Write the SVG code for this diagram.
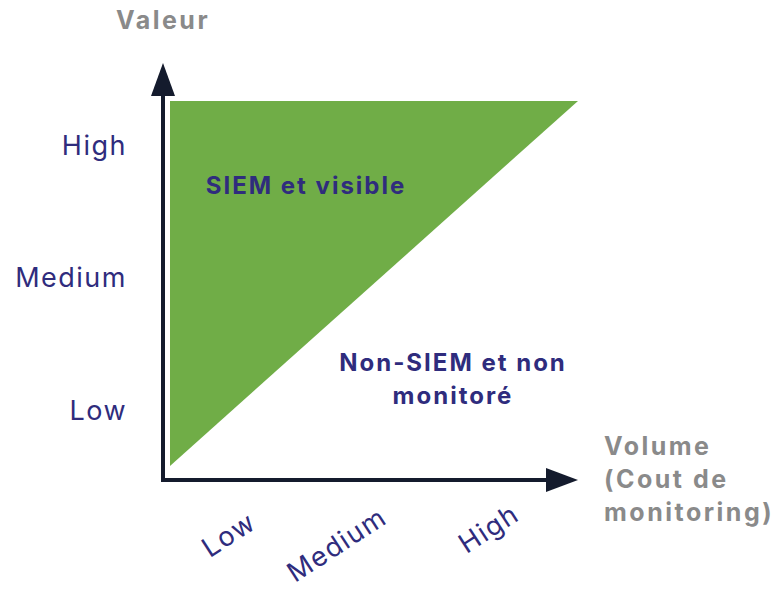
<svg xmlns="http://www.w3.org/2000/svg" width="780" height="589" viewBox="0 0 780 589">
<defs>
<style>
.t{font-family:Inter,"Open Sans","Liberation Sans",sans-serif}
.lab{font-size:27px;fill:#2F2C7D;letter-spacing:1.5px}
.bold{font-weight:700;font-size:24px;letter-spacing:2px}
.gray{fill:#8A8A8A;font-size:25px;font-weight:700;letter-spacing:2.5px}
.axis{stroke:#141B2D;stroke-width:4;fill:none}
</style>
</defs>
<rect width="780" height="589" fill="#FFFFFF"/>
<g id="region-siem">
<polygon points="170,101 578,101 170,466" fill="#70AD47"/>
<text class="t lab bold" x="306" y="194" text-anchor="middle">SIEM et visible</text>
</g>
<g id="region-non-siem">
<text class="t lab bold" x="453" y="371" text-anchor="middle">Non-SIEM et non</text>
<text class="t lab bold" x="453" y="404" text-anchor="middle">monitoré</text>
</g>
<g id="connectors">
<polyline class="axis" points="163,93 163,480 550,480"/>
<polygon points="163,63 151,96 175,96" fill="#141B2D"/>
<polygon points="578,480 546,468 546,492" fill="#141B2D"/>
</g>
<g id="y-axis-labels">
<text class="t gray" x="116" y="29">Valeur</text>
<text class="t lab" x="127" y="155" text-anchor="end">High</text>
<text class="t lab" x="127" y="287" text-anchor="end">Medium</text>
<text class="t lab" x="127" y="420" text-anchor="end">Low</text>
</g>
<g id="x-axis-labels">
<text class="t gray" x="604" y="455">Volume</text>
<text class="t gray" x="604" y="488">(Cout de</text>
<text class="t gray" x="604" y="521">monitoring)</text>
<text class="t lab" x="229" y="544" text-anchor="middle" transform="rotate(-33 229 535)">Low</text>
<text class="t lab" x="337" y="554" text-anchor="middle" transform="rotate(-33 337 545)">Medium</text>
<text class="t lab" x="489" y="538" text-anchor="middle" transform="rotate(-33 489 529)">High</text>
</g>
</svg>
